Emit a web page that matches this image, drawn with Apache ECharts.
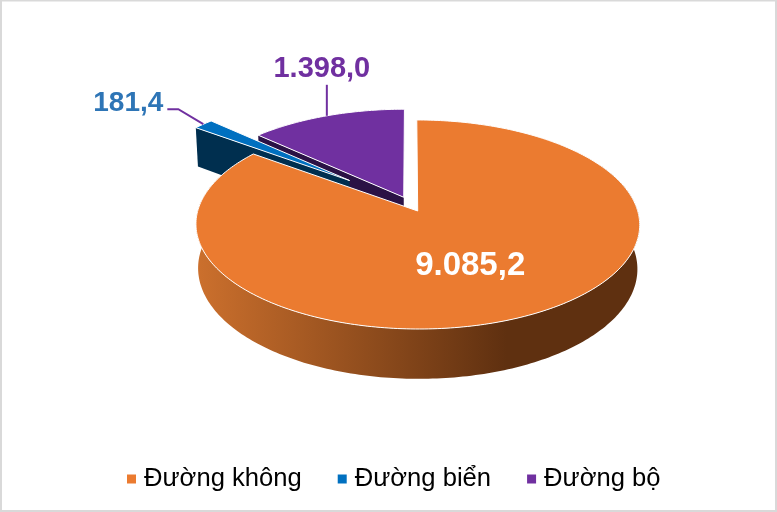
<!DOCTYPE html>
<html>
<head>
<meta charset="utf-8">
<style>html,body{margin:0;padding:0;background:#fff}#c{width:777px;height:512px}</style>
<script src="https://cdn.jsdelivr.net/npm/echarts@6/dist/echarts.min.js"></script>
</head>
<body>
<div id="c"></div>
<script>
const categories = ['Đường không', 'Đường biển', 'Đường bộ'];
const values = [9085.2, 181.4, 1398.0];
const valueLabels = ['9.085,2', '181,4', '1.398,0'];
const topColors = ['#EB7B30', '#0070C0', '#7030A0'];
const wallColors = ['#5F3010', '#002F4F', '#2B1245'];
const labelColors = ['#FFFFFF', '#2E75B6', '#7030A0'];

// Perspective disc: unit circle -> screen
const view = {x0: 409.8, y0: 203.7, b: 218, a: 100.9, k: 0.128, depth: 43, bottomScale: 0.99};
// Explosion of each slice, in radii, along slice bisector
const explode = [0.08, 0.37, 0.07];
const labelFontSizes = [33, 28, 29];
const paintRank = [3, 2, 1];

const total = values.reduce((s, v) => s + v, 0);
function sliceAngles(i) {
  let start = 0;
  for (let j = 0; j < i; j++) start += values[j] / total * 360;
  return [start, start + values[i] / total * 360];
}
function project(u, v, bottom) {
  const w = 1 + view.k * v;
  const sx = view.b * u / w, sy = -view.a * v / w;
  return bottom
    ? [view.x0 + sx * view.bottomScale, view.y0 + sy + view.depth / w]
    : [view.x0 + sx, view.y0 + sy];
}
function discPoint(i, deg, r, bottom) {
  const [s, e] = sliceAngles(i);
  const mid = (s + e) / 2 * Math.PI / 180, t = deg * Math.PI / 180;
  return project(explode[i] * Math.sin(mid) + r * Math.sin(t),
                 explode[i] * Math.cos(mid) + r * Math.cos(t), bottom);
}
function rim(i, bottom) {
  const [s, e] = sliceAngles(i), pts = [], n = Math.max(4, Math.ceil(e - s));
  for (let j = 0; j <= n; j++) pts.push(discPoint(i, s + (e - s) * j / n, 1, bottom));
  return pts;
}

function renderSlice(params) {
  const i = params.seriesIndex;
  const [s, e] = sliceAngles(i);
  const mid = (s + e) / 2;
  const top = rim(i, false), bot = rim(i, true);
  const apex = discPoint(i, 0, 0, false), apexB = discPoint(i, 0, 0, true);
  const children = [];
  if (i === 0) {
    // outer wall of the big slice: only the part of the rim that faces the viewer
    const from = Math.round(top.length * 0.2), to = Math.round(top.length * 0.95);
    const wallTop = top.slice(from, to), wallBot = bot.slice(from, to).reverse();
    children.push({type: 'polygon', shape: {points: wallTop.concat(wallBot)}, style: {
      fill: new echarts.graphic.LinearGradient(0, 0, 1, 0, [
        {offset: 0, color: '#CC702D'},
        {offset: 0.7, color: wallColors[0]},
        {offset: 1, color: wallColors[0]}])
    }});
  } else {
    // cut face of the exploded slices
    children.push({type: 'polygon', shape: {points: [apex, top[0], bot[0], apexB]}, style: {fill: wallColors[i]}});
  }
  children.push({type: 'polygon', shape: {points: [apex].concat(top)},
    style: {fill: topColors[i], stroke: '#fff', lineWidth: 1, lineJoin: 'round'}});
  const edge = discPoint(i, mid, 1, false);
  let tx, ty, align = 'center';
  if (i === 0) {
    const c = discPoint(i, mid + 3, 0.55, false);
    tx = c[0]; ty = c[1];
  } else if (i === 1) {
    const a = [edge[0] - 25, edge[1] - 15], b = [a[0] - 11, a[1]];
    children.push({type: 'polyline', shape: {points: [edge, a, b]},
      style: {stroke: '#7030A0', lineWidth: 2, fill: null}});
    tx = b[0] - 4; ty = b[1] - 6; align = 'right';
  } else {
    const a = [edge[0], edge[1] - 31];
    children.push({type: 'polyline', shape: {points: [edge, a]},
      style: {stroke: '#7030A0', lineWidth: 2, fill: null}});
    tx = a[0] - 5; ty = a[1] - 16;
  }
  children.push({type: 'text', style: {
    x: tx, y: ty, text: valueLabels[i], fill: labelColors[i], align: align, verticalAlign: 'middle',
    font: 'bold ' + labelFontSizes[i] + 'px "Liberation Sans", Arial, sans-serif'
  }});
  return {type: 'group', children: children};
}

const chart = echarts.init(document.getElementById('c'), null, {renderer: 'canvas'});
chart.setOption({
  animation: false,
  backgroundColor: '#fff',
  color: topColors,
  graphic: [{type: 'rect', silent: true, z: 0,
    shape: {x: 1, y: 0.5, width: 775, height: 510.5},
    style: {fill: null, stroke: '#D9D9D9', lineWidth: 2}}],
  legend: {
    data: categories, left: 127, top: 466, padding: 0, icon: 'rect', itemWidth: 9, itemHeight: 9, itemGap: 36,
    textStyle: {color: '#000', fontSize: 25.6, fontFamily: '"Liberation Sans", Arial, sans-serif', padding: [0, 0, 0, 3]}
  },
  series: categories.map((name, i) => ({
    type: 'custom', name: name, coordinateSystem: 'none', z: 2 + paintRank[i],
    data: [[values[i]]], renderItem: renderSlice, silent: true
  }))
});
</script>
</body>
</html>
